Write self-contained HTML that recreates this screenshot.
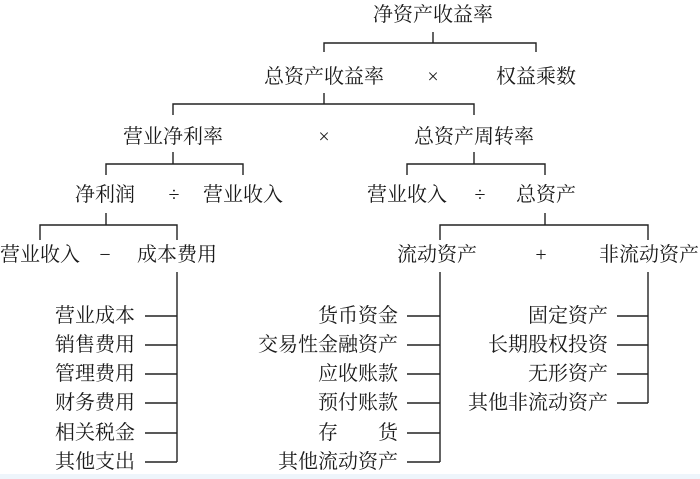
<!DOCTYPE html>
<html><head><meta charset="utf-8"><style>
html,body{margin:0;padding:0;background:#fff;width:700px;height:479px;overflow:hidden}
svg{display:block}
text{font-family:"Liberation Serif","Noto Serif CJK SC","Noto Sans CJK SC",serif;font-size:20px;fill:#1a1a1a;dominant-baseline:central}
</style></head><body>
<svg width="700" height="479" viewBox="0 0 700 479" xmlns="http://www.w3.org/2000/svg">
<rect x="0" y="474" width="700" height="5" fill="#eef5fb"/>
<g stroke="#222" stroke-width="1.4" fill="none">
<path d="M433 32V43M324 52V43H536V52"/>
<path d="M324 93V104M173 115V104H474V115"/>
<path d="M173 152V164M106 175V164H243V175"/>
<path d="M474 152V164M407 175V164H545V175"/>
<path d="M106 213V225M40 240V225H177V240"/>
<path d="M545 213V225M440 240V225H648V240"/>
<path d="M177 272V462"/>
<path d="M440 272V462"/>
<path d="M648 272V403"/>
<path d="M145 316H177M145 345H177M145 374H177M145 403H177M145 433H177M145 462H177"/>
<path d="M407 316H440M407 345H440M407 374H440M407 403H440M407 433H440M407 462H440"/>
<path d="M617 316H648M617 345H648M617 374H648M617 403H648"/>
</g>
<g text-anchor="middle">
<text x="433" y="15">净资产收益率</text>
<text x="324" y="77">总资产收益率</text>
<text x="433" y="77">×</text>
<text x="536" y="77">权益乘数</text>
<text x="173" y="137">营业净利率</text>
<text x="324" y="137">×</text>
<text x="474" y="137">总资产周转率</text>
<text x="105" y="195">净利润</text>
<text x="174" y="195">÷</text>
<text x="243" y="195">营业收入</text>
<text x="407" y="195">营业收入</text>
<text x="480" y="195">÷</text>
<text x="546" y="195">总资产</text>
<text x="40" y="255">营业收入</text>
<text x="105" y="255">−</text>
<text x="177" y="255">成本费用</text>
<text x="437" y="255">流动资产</text>
<text x="541" y="255">+</text>
<text x="649" y="255">非流动资产</text>
</g>
<g text-anchor="end">
<text x="135" y="316">营业成本</text>
<text x="135" y="345">销售费用</text>
<text x="135" y="374">管理费用</text>
<text x="135" y="403">财务费用</text>
<text x="135" y="433">相关税金</text>
<text x="135" y="462">其他支出</text>
<text x="398" y="316">货币资金</text>
<text x="398" y="345">交易性金融资产</text>
<text x="398" y="374">应收账款</text>
<text x="398" y="403">预付账款</text>
<text x="398" y="433">存　　货</text>
<text x="398" y="462">其他流动资产</text>
<text x="608" y="316">固定资产</text>
<text x="608" y="345">长期股权投资</text>
<text x="608" y="374">无形资产</text>
<text x="608" y="403">其他非流动资产</text>
</g>
</svg>
</body></html>
